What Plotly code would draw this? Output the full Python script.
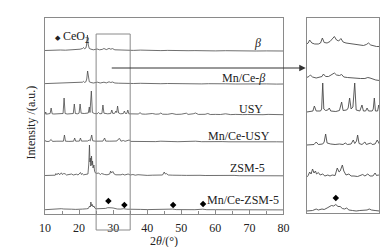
import plotly.graph_objects as go

W, H = 391, 247

# ---------------- data (2theta, intensity a.u.) ----------------
sample_names = ["<i>β</i>", "Mn/Ce-<i>β</i>", "USY", "Mn/Ce-USY", "ZSM-5", "Mn/Ce-ZSM-5"]
x_ticks = [10, 20, 30, 40, 50, 60, 70, 80]

beta_main = [(10,0.5),(11.5,0.8),(13,0.6),(14.5,1.0),(16,0.8),(17.5,1.1),(19,1.2),(20.3,1.8),(21.0,2.5),(21.3,3.5),(21.6,2.2),(22.0,3.0),(22.2,6),(22.45,16),(22.7,6),(23.0,2.5),(23.5,1.8),(24.2,1.2),(25.3,2.0),(26.0,1.2),(26.8,1.6),(27.3,2.5),(28.0,1.4),(28.8,2.6),(29.3,1.8),(29.8,2.4),(30.5,1.2),(31.5,1.0),(33,0.8),(34.5,1.0),(36,0.6),(38,0.9),(40,0.5),(42,0.7),(44,0.4),(46,0.6),(48,0.3),(50,0.5),(52,0.3),(54,0.4),(56,0.2),(58,0.3),(60,0.1),(63,0.3),(66,0.0),(69,0.2),(72,0.0),(75,0.1),(78,-0.1),(80,0.0)]
mnce_beta_main = [(10,0.4),(11.5,0.6),(13,0.5),(14.5,0.8),(16,0.7),(17.5,1.0),(19,1.0),(20.3,1.5),(21.0,1.8),(21.3,2.6),(21.6,1.6),(22.0,2.2),(22.25,5),(22.5,13),(22.75,5),(23.0,2.2),(23.5,1.5),(24.2,1.0),(25.4,1.8),(26.2,1.0),(27.3,1.8),(28.0,1.1),(28.8,2.2),(29.3,1.5),(29.8,2.0),(30.5,1.0),(31.5,0.8),(33,0.6),(34.5,0.8),(36,0.5),(38,0.7),(40,0.4),(42,0.6),(44,0.3),(46,0.5),(48,0.3),(50,0.4),(52,0.2),(54,0.3),(56,0.1),(58,0.3),(60,0.0),(63,0.2),(66,0.0),(69,0.2),(72,-0.1),(75,0.1),(78,-0.1),(80,0.0)]
usy_main = [(10,0.5),(10.2,3),(10.4,0.8),(11.0,1.0),(11.5,1.5),(11.8,7),(12.1,1.2),(12.6,1.0),(13.5,1.2),(14.5,1.0),(15.3,1.5),(15.6,17),(15.9,1.5),(16.5,1.0),(17.5,1.2),(18.3,1.5),(18.6,11),(18.9,1.5),(19.5,1.2),(20.0,1.8),(20.3,11),(20.6,1.8),(21.5,1.5),(22.2,1.8),(22.7,2.0),(23.0,8),(23.2,2.5),(23.6,24),(23.9,2.5),(24.5,1.5),(25.3,1.2),(25.7,2.5),(26.1,1.2),(26.7,1.5),(27.0,10),(27.3,1.8),(27.8,1.5),(28.4,1.2),(29.3,1.5),(29.6,5),(29.9,1.5),(30.5,1.8),(30.8,4),(31.05,2.5),(31.3,9),(31.6,2),(32.2,1.2),(33.0,1.5),(33.3,4),(33.6,1.5),(34.0,1.5),(34.3,5),(34.6,1.2),(35.5,1.0),(36.5,0.8),(37.5,1.0),(37.9,2.5),(38.3,1.0),(39.5,0.8),(40.5,1.2),(41.0,0.7),(41.5,1.5),(42.5,0.8),(43.5,1.0),(44.0,2.0),(44.5,0.8),(46,0.7),(47.3,1.5),(48.5,0.6),(50,0.8),(51.5,1.8),(52,0.6),(53.5,1.2),(54.2,2.0),(55,0.6),(57,0.7),(57.8,1.5),(58.5,0.5),(60,0.6),(61.5,0.5),(63,1.2),(64.5,0.4),(66,0.6),(67.5,1.0),(68,0.4),(69.5,0.5),(71,0.3),(72.5,0.8),(74,0.3),(75.5,0.6),(77,0.3),(78.5,0.5),(80,0.3)]
mnce_usy_main = [(10,0.3),(10.2,1.5),(10.4,0.5),(11.2,0.6),(11.8,2.5),(12.2,0.6),(13.5,0.8),(14.5,0.6),(15.4,0.8),(15.7,7),(16.0,0.8),(17.0,0.6),(18.4,0.8),(18.7,4),(19.0,0.8),(20.1,0.9),(20.4,4),(20.7,0.9),(21.5,0.8),(22.5,1.0),(23.0,2),(23.3,1.2),(23.7,7),(24.0,1.2),(24.8,0.8),(26.3,1.0),(26.6,1.5),(27.0,0.9),(27.5,4),(27.8,0.9),(29,0.8),(30.3,1.3),(31.1,1.0),(31.4,2.5),(31.9,3.5),(32.3,0.8),(33.0,1.5),(33.5,0.7),(34.7,2),(35.2,0.6),(36.5,0.5),(38,1.0),(39.5,0.5),(41,0.6),(42.5,0.4),(44,0.8),(45.5,0.4),(47,0.5),(49,0.3),(51.5,0.7),(53,0.3),(54.2,0.8),(56,0.3),(58,0.5),(60,0.2),(62,0.4),(64,0.2),(66,0.3),(68,0.2),(70,0.3),(72,0.1),(74,0.3),(76,0.1),(78,0.2),(80,0.1)]
zsm5_main = [(10,0.5),(11,0.8),(12,0.6),(12.5,1.2),(13.0,0.8),(13.2,2.5),(13.5,1.2),(13.9,3),(14.3,1.2),(14.8,3.2),(15.1,1.5),(15.5,2.5),(15.9,2.2),(16.3,1.0),(17.0,1.2),(17.8,2),(18.3,1.0),(19.2,1.8),(19.7,1.0),(20.4,3.5),(20.7,1.5),(20.9,2.5),(21.3,1.2),(22.2,2.2),(22.6,2.0),(22.85,12),(23.05,31),(23.2,14),(23.3,18),(23.45,10),(23.65,20),(23.8,11),(23.95,15),(24.1,8),(24.35,11),(24.55,5),(24.8,3),(25.2,2.5),(25.6,3.0),(25.9,2.5),(26.3,1.5),(26.6,2.5),(27.0,1.8),(27.5,1.5),(28.2,1.2),(29.0,2.0),(29.25,5),(29.5,3),(29.9,4.5),(30.3,2.0),(30.8,1.2),(31.5,1.0),(32.3,1.2),(32.8,1.8),(33.4,1.0),(34.4,2.0),(35.0,1.0),(35.8,1.5),(36.5,0.8),(37.3,1.3),(38.5,0.8),(40,0.6),(41.5,0.8),(43,0.7),(44.5,1.0),(45.0,4),(45.3,2.0),(45.6,2.5),(46.2,1.0),(47.5,0.8),(48.5,1.0),(50,0.7),(51.5,0.6),(52.5,0.8),(54,0.5),(55.5,0.7),(57,0.5),(58.5,0.6),(60,0.4),(62,0.5),(64,0.4),(65.5,0.6),(67,0.3),(69,0.4),(71,0.3),(73,0.4),(75,0.2),(77,0.3),(79,0.2),(80,0.2)]
mnce_zsm5_main = [(10,0.3),(11,0.6),(12,0.4),(13.2,1.0),(13.9,1.3),(14.8,1.3),(15.5,1.0),(16.5,0.6),(17.8,0.8),(19,0.6),(20.4,1.2),(21,0.9),(22.2,1.2),(22.7,1.5),(23.1,4),(23.3,3),(23.45,8),(23.7,4),(23.9,5.5),(24.1,3),(24.35,4),(24.6,2),(25.0,1.2),(25.6,1.3),(26.3,1.0),(27.0,1.3),(27.8,1.6),(28.4,2.3),(28.9,2.6),(29.4,2.2),(30.0,2.0),(30.5,1.5),(31.2,1.0),(32.2,0.9),(33.1,1.3),(34.0,0.8),(35,0.6),(36.5,0.5),(38,0.6),(40,0.4),(42,0.5),(44,0.4),(45.1,1.0),(46,0.4),(47.5,0.9),(48.5,0.4),(50,0.3),(52,0.4),(54,0.3),(56.3,0.8),(57.5,0.3),(60,0.3),(63,0.2),(66,0.3),(69,0.2),(72,0.2),(75,0.1),(78,0.2),(80,0.1)]

# zoomed 25-35 deg region (inset)
beta_zoom = [(25.0,2),(25.2,3),(25.4,6),(25.7,3),(26.1,2),(26.6,2),(26.9,3),(27.15,8),(27.4,3.5),(27.8,3),(28.2,4.5),(28.5,7),(28.8,9.5),(29.1,6),(29.4,5),(29.7,7.5),(30.0,4),(30.4,3),(30.8,2.5),(31.3,2),(31.8,1.5),(32.3,1),(32.8,0.5),(33.2,1.5),(33.5,3),(33.8,1),(34.2,0),(34.6,-0.5),(35.0,-0.5)]
mnce_beta_zoom = [(25.0,1.5),(25.3,2.5),(25.5,4),(25.8,2),(26.3,1),(26.8,1.5),(27.1,2.5),(27.3,5),(27.6,2.5),(28.0,2.5),(28.4,4),(28.8,6),(29.1,4),(29.5,3.5),(29.8,4.5),(30.1,2),(30.6,1.5),(31.2,1),(31.8,0.5),(32.4,0.5),(33.0,0.5),(33.4,1.5),(33.7,1),(34.0,0),(34.5,-1),(35.0,-1.5)]
usy_zoom = [(25.0,0),(25.5,0.5),(25.85,1),(26.05,6),(26.3,1),(26.9,1),(27.05,3),(27.2,29),(27.35,3),(27.6,1.5),(27.9,2),(28.1,4),(28.3,1),(29.0,0.5),(29.5,1.5),(29.8,10),(30.0,1.5),(30.5,2),(30.7,4),(30.9,14),(31.1,3),(31.35,5),(31.6,29),(31.8,2),(32.3,1),(32.6,7),(32.8,1),(33.1,1),(33.3,4),(33.5,1),(34.0,1),(34.15,3),(34.3,14),(34.45,1),(34.75,1),(34.9,7),(35.0,3)]
mnce_usy_zoom = [(25.0,0),(25.5,0.5),(26.0,0.5),(26.3,3),(26.6,0.5),(27.2,1),(27.4,3),(27.6,11),(27.8,2),(28.3,1),(28.9,0.5),(29.5,1),(30.0,0.5),(30.3,2),(30.6,0.5),(31.1,1),(31.4,5),(31.6,1.5),(31.85,4),(32.0,10),(32.2,1.5),(32.6,0.5),(33.0,3),(33.2,0.5),(33.8,2),(34.0,0.5),(34.4,1),(34.7,5),(35.0,1)]
zsm5_zoom = [(25.0,0),(25.2,1.5),(25.4,5),(25.6,3),(25.8,8),(26.0,4),(26.2,6),(26.35,3),(26.6,4.5),(26.85,2),(27.2,3),(27.5,1),(27.9,2),(28.2,1),(28.5,2),(28.9,1.5),(29.2,9),(29.45,5),(29.6,6),(29.9,12),(30.1,6),(30.4,2),(30.8,3),(31.1,1),(31.5,1),(32.0,0.5),(32.7,2.5),(33.0,1),(33.4,3),(33.7,1),(34.1,1),(34.4,4),(34.6,1.5),(34.85,2),(35.0,1)]
mnce_zsm5_zoom = [(25.0,0),(25.4,0.5),(25.8,0.5),(26.3,2),(26.6,1),(27.1,2),(27.4,1.5),(27.8,3),(28.1,4),(28.4,5.5),(28.7,5),(29.0,6.5),(29.3,4.5),(29.6,4.5),(29.9,2.5),(30.2,2),(30.5,3),(30.8,1),(31.3,0.5),(31.8,0),(32.3,0.5),(32.8,0.5),(33.3,1),(33.6,2),(33.9,1),(34.4,0.5),(35.0,0)]

# CeO2 reflections marked on Mn/Ce-ZSM-5
ceo2_2theta = [28.6, 33.3, 47.6, 56.4]
ceo2_mark_I = [9, 5, 5, 6]
ceo2_zoom_2theta = [29.0]
ceo2_zoom_mark_I = [13]

main_series = [beta_main, mnce_beta_main, usy_main, mnce_usy_main, zsm5_main, mnce_zsm5_main]
zoom_series = [beta_zoom, mnce_beta_zoom, usy_zoom, mnce_usy_zoom, zsm5_zoom, mnce_zsm5_zoom]

# ---------------- layout helpers ----------------
main_offsets = [163, 130, 99, 72, 38, 4]
zoom_offsets = [167, 134, 101, 68, 36, 2]
label_right_px = [257, 261, 259, 266, 261, 275]
label_y_px = [35, 70, 101, 128, 160, 192]

LINE = "#4a4a4a"
FRAME = "#8a8a8a"
FONT = "Liberation Serif, Times New Roman, serif"

def px(x):
    return x / W

def py(y):
    return (H - y) / H

fig = go.Figure()

for data, off in zip(main_series, main_offsets):
    xs = [p[0] for p in data]
    ys = [p[1] + off for p in data]
    fig.add_trace(go.Scatter(x=xs, y=ys, mode="lines", xaxis="x", yaxis="y",
                             line=dict(color=LINE, width=0.8), showlegend=False))

for data, off in zip(zoom_series, zoom_offsets):
    xs = [p[0] for p in data]
    ys = [p[1] + off for p in data]
    fig.add_trace(go.Scatter(x=xs, y=ys, mode="lines", xaxis="x2", yaxis="y2",
                             line=dict(color=LINE, width=0.9), showlegend=False))

fig.add_trace(go.Scatter(x=ceo2_2theta, y=[v + main_offsets[5] for v in ceo2_mark_I],
                         mode="markers", xaxis="x", yaxis="y",
                         marker=dict(symbol="diamond", size=5, color="black"), showlegend=False))
fig.add_trace(go.Scatter(x=ceo2_zoom_2theta, y=[v + zoom_offsets[5] for v in ceo2_zoom_mark_I],
                         mode="markers", xaxis="x2", yaxis="y2",
                         marker=dict(symbol="diamond", size=5, color="black"), showlegend=False))

annotations = []
for name, xr, yc in zip(sample_names, label_right_px, label_y_px):
    annotations.append(dict(text=name, x=px(xr), y=py(yc), xref="paper", yref="paper",
                            xanchor="right", yanchor="middle", showarrow=False,
                            font=dict(family=FONT, size=12, color="#222")))

annotations.append(dict(text="<span style='font-size:7px'>◆</span> CeO<sub>2</sub>",
                        x=px(40), y=py(29), xref="paper", yref="paper",
                        xanchor="left", yanchor="middle", showarrow=False,
                        font=dict(family=FONT, size=12, color="#222")))
annotations.append(dict(text="Intensity /(a.u.)", x=px(18), y=py(114), xref="paper", yref="paper",
                        xanchor="center", yanchor="middle", textangle=-90, showarrow=False,
                        font=dict(family=FONT, size=12, color="#222")))
annotations.append(dict(text="2<i>θ</i>/(°)", x=px(155), y=py(233), xref="paper", yref="paper",
                        xanchor="center", yanchor="middle", showarrow=False,
                        font=dict(family=FONT, size=12, color="#222")))
annotations.append(dict(text=" ", x=px(301), y=py(60), xref="paper", yref="paper",
                        ax=-197, ay=0, showarrow=True, arrowhead=2, arrowsize=1.3,
                        arrowwidth=1, arrowcolor="#333"))

fig.update_layout(
    width=W, height=H, autosize=False,
    margin=dict(l=0, r=0, t=0, b=0),
    paper_bgcolor="white", plot_bgcolor="white",
    font=dict(family=FONT, size=12, color="#222"),
    xaxis=dict(domain=[px(32), px(278)], range=[10, 80], tickvals=x_ticks,
               ticks="inside", ticklen=4, tickcolor=FRAME, ticklabelstandoff=3,
               minor=dict(dtick=5, tick0=10, ticks="inside", ticklen=3, tickcolor=FRAME),
               showline=True, linecolor=FRAME, linewidth=1, mirror=True,
               showgrid=False, zeroline=False, anchor="y",
               tickfont=dict(family=FONT, size=12, color="#222")),
    yaxis=dict(domain=[py(206), py(10)], range=[0, 196], showticklabels=False,
               ticks="", showline=True, linecolor=FRAME, linewidth=1, mirror=True,
               showgrid=False, zeroline=False, anchor="x"),
    xaxis2=dict(domain=[px(302), px(377)], range=[25, 35], showticklabels=False,
                ticks="", showline=True, linecolor=FRAME, linewidth=1, mirror=True,
                showgrid=False, zeroline=False, anchor="y2"),
    yaxis2=dict(domain=[py(205), py(10)], range=[0, 195], showticklabels=False,
                ticks="", showline=True, linecolor=FRAME, linewidth=1, mirror=True,
                showgrid=False, zeroline=False, anchor="x2"),
    shapes=[dict(type="rect", xref="x", yref="paper", x0=25, x1=35,
                 y0=py(222), y1=py(26), line=dict(color=FRAME, width=1),
                 fillcolor="rgba(0,0,0,0)")],
    annotations=annotations,
)

fig.write_html("out.html")
